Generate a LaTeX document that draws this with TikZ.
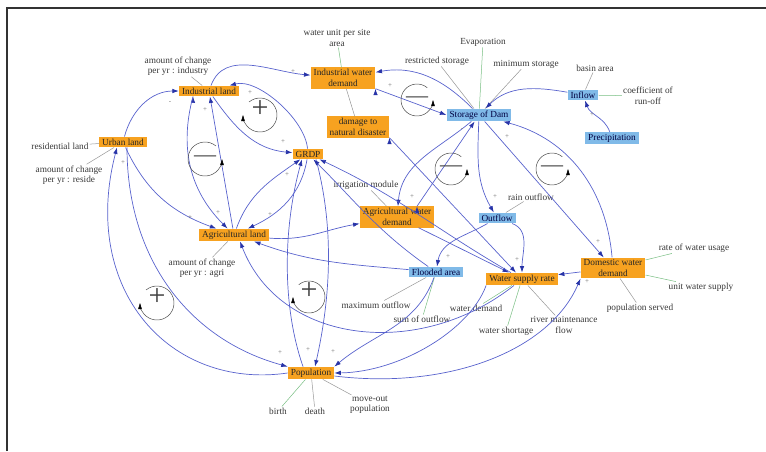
\documentclass[tikz,border=0pt]{standalone}
\usepackage{fontspec}
\setmainfont{Liberation Serif}
\usetikzlibrary{arrows.meta}
\definecolor{stockorange}{RGB}{247,162,32}
\definecolor{flowblue}{RGB}{128,186,232}
\definecolor{linkblue}{RGB}{88,98,205}
\definecolor{tipblue}{RGB}{40,52,168}
\definecolor{auxgray}{RGB}{150,150,150}
\definecolor{auxgrn}{RGB}{120,190,130}
\definecolor{labelgray}{RGB}{55,55,55}

\begin{document}
\begin{tikzpicture}
  [x=1pt,y=1pt,
   every node/.style={font=\fontsize{9.3}{10.5}\selectfont, align=center, inner sep=1.5pt},
   stock/.style={fill=stockorange, text=black!85, inner xsep=3pt, inner ysep=2pt},
   flowbox/.style={fill=flowblue, text=black!75!blue, inner xsep=3pt, inner ysep=2pt},
   aux/.style={text=labelgray, inner sep=1pt},
   sign/.style={font=\fontsize{7}{7}\selectfont, text=black!55, inner sep=0pt},
   link/.style={draw=linkblue, line width=0.7pt, -{Latex[length=6.5pt,width=4.5pt,color=tipblue]}},
   auxline/.style={draw=auxgray, line width=0.5pt},
   greenline/.style={draw=auxgrn, line width=0.5pt},
   loopc/.style={draw=black!70, line width=0.5pt, -{Triangle[length=6pt,width=3.5pt,color=black]}},
   loopsign/.style={text=black!75, inner sep=0pt, text height=0.5em, text depth=0pt},
   plus/.style={loopsign, font=\fontsize{30}{30}\selectfont},
   minus/.style={loopsign, font=\fontsize{22}{22}\selectfont}]

  \useasboundingbox (0,0) rectangle (766,-451);
  % frame
  \draw[black!80, line width=1.3pt] (7,-451) -- (7,-8) -- (766,-8);

  % stocks and flows
  \node[stock] (ind) at (209,-91) {Industrial land};
  \node[stock] (urb) at (123,-142) {Urban land};
  \node[stock] (iwd) at (343,-78) {Industrial water\\demand};
  \node[stock] (dmg) at (358,-127) {damage to\\natural disaster};
  \node[stock] (grdp) at (308,-154) {GRDP};
  \node[flowbox] (sto) at (479,-115) {Storage of Dam};
  \node[flowbox] (inf) at (583,-95) {Inflow};
  \node[flowbox] (pre) at (612,-138) {Precipitation};
  \node[flowbox] (outf) at (497,-218) {Outflow};
  \node[stock] (awd) at (397,-217) {Agricultural water\\demand};
  \node[stock] (agr) at (234,-235) {Agricultural land};
  \node[flowbox] (fld) at (436,-272) {Flooded area};
  \node[stock] (wsr) at (522,-279) {Water supply rate};
  \node[stock] (dwd) at (613,-268) {Domestic water\\demand};
  \node[stock] (pop) at (311,-373) {Population};

  % auxiliaries
  \node[aux] (resid) at (60,-146) {residential land};
  \node[aux] (chres) at (69,-175) {amount of change\\per yr : reside};
  \node[aux] (chind) at (178,-66) {amount of change\\per yr : industry};
  \node[aux] (wunit) at (337,-38) {water unit per site\\area};
  \node[aux] (restr) at (437,-61) {restricted storage};
  \node[aux] (evap) at (483,-42) {Evaporation};
  \node[aux] (minst) at (526,-64) {minimum storage};
  \node[aux] (basin) at (595,-68) {basin area};
  \node[aux] (coef) at (648,-96) {coefficient of\\run-off};
  \node[aux] (rainout) at (531,-197) {rain outflow};
  \node[aux] (irrig) at (366,-185) {irrigation module};
  \node[aux] (chagr) at (202,-268) {amount of change\\per yr : agri};
  \node[aux] (maxout) at (376,-305) {maximum outflow};
  \node[aux] (sumout) at (422,-319) {sum of outflow};
  \node[aux] (wdem) at (476,-308) {water demand};
  \node[aux] (wshort) at (506,-331) {water shortage};
  \node[aux] (river) at (564,-325) {river maintenance\\flow};
  \node[aux] (rate) at (694,-248) {rate of water usage};
  \node[aux] (unitws) at (701,-287) {unit water supply};
  \node[aux] (popserv) at (640,-308) {population served};
  \node[aux] (birth) at (278,-411) {birth};
  \node[aux] (death) at (315,-411) {death};
  \node[aux] (moveout) at (370,-405) {move-out\\population};

  % auxiliary lines
  \draw[auxline] (resid) -- (urb);
  \draw[auxline] (chres) -- (urb);
  \draw[auxline] (chind) -- (ind);
  \draw[greenline] (wunit) -- (iwd);
  \draw[auxline] (restr) -- (sto);
  \draw[greenline] (evap) -- (sto);
  \draw[auxline] (minst) -- (sto);
  \draw[auxline] (basin) -- (inf);
  \draw[greenline] (coef) -- (inf);
  \draw[auxline] (rainout) -- (outf);
  \draw[auxline] (irrig) -- (awd);
  \draw[auxline] (chagr) -- (agr);
  \draw[auxline] (maxout) -- (fld);
  \draw[greenline] (sumout) -- (fld);
  \draw[greenline] (wdem) -- (wsr);
  \draw[greenline] (wshort) -- (wsr);
  \draw[auxline] (river) -- (wsr);
  \draw[greenline] (rate) -- (dwd);
  \draw[greenline] (unitws) -- (dwd);
  \draw[auxline] (popserv) -- (dwd);
  \draw[greenline] (birth) -- (pop);
  \draw[auxline] (death) -- (pop);
  \draw[auxline] (moveout) -- (pop);
  \draw[auxline] (iwd) -- (dmg);

  % causal links
  \path[link] (urb) edge[out=75,in=180] (ind);
  \path[link] (ind) edge[out=70,in=175] (iwd);
  \path[link] (sto) edge[out=135,in=10] (iwd);
  \path[link] (iwd.south east) edge (sto.west);
  \path[link] (inf) edge[out=170,in=45] (sto);
  \path[link] (pre) edge[out=110,in=-70] (inf);
  \path[link] (sto) edge[out=-92,in=120] (outf);
  \path[link] (outf) edge[out=210,in=80] (fld);
  \path[link] (outf) edge[out=-20,in=90] (wsr);
  \path[link] (sto) edge (dwd);
  \path[link] (dwd) edge[out=95,in=-15] (sto);
  \path[link] (dwd) edge (wsr);
  \path[link] (sto) edge[out=-140,in=85] (awd);
  \path[link] ([xshift=20pt]awd.north) edge (sto);
  \path[link] (awd) edge (wsr);
  \path[link] (dmg.south east) edge (wsr);
  \path[link] (grdp) edge[out=95,in=15,looseness=0.75] (ind);
  \path[link] (ind) edge[out=-55,in=175] (grdp);
  \path[link] ([xshift=-16pt]ind.south) edge[out=-105,in=135] (agr);
  \path[link] (agr) edge (ind);
  \path[link] (agr) edge[out=70,in=215] (grdp);
  \path[link] (grdp) edge[out=-100,in=25] (agr);
  \path[link] (agr) edge[out=-5,in=190] (awd);
  \path[link] (urb) edge[out=-65,in=160] (agr);
  \draw[link] (pop.west) .. controls (170,-390) and (80,-290) .. ([xshift=-6pt]urb.south);
  \draw[link] ([xshift=4pt]urb.south) .. controls (127,-260) and (190,-340) .. (pop.north west);
  \draw[link] ([xshift=-8pt]pop.north) .. controls (280,-300) and (285,-220) .. ([xshift=-6pt]grdp.south);
  \draw[link] ([xshift=8pt]grdp.south) .. controls (335,-230) and (330,-300) .. ([xshift=4pt]pop.north);
  \path[link] (fld) edge[out=-110,in=40] (pop.north east);
  \draw[link] (wsr.south west) .. controls (470,-330) and (400,-372) .. (pop.east);
  \draw[link] ([yshift=-3pt]pop.east) .. controls (450,-390) and (550,-350) .. (dwd.south west);
  \path[link] (fld) edge[out=175,in=-20] ([xshift=20pt]agr.south);
  \draw[link] ([xshift=-8pt]wsr.south) .. controls (420,-360) and (280,-345) .. ([xshift=6pt]agr.south);
  \path[link] (fld) edge[out=145,in=-45] (grdp);
  \path[link] (wsr) edge[out=150,in=-25] (grdp);

  % link polarities
  \node[sign] (s1) at (170,-103) {-};
  \node[sign] (s2) at (293,-72) {+};
  \node[sign] (s3) at (390,-86) {+};
  \node[sign] (s4) at (592,-115) {+};
  \node[sign] (s5) at (495,-197) {+};
  \node[sign] (s6) at (448,-257) {+};
  \node[sign] (s7) at (517,-260) {+};
  \node[sign] (s8) at (598,-242) {+};
  \node[sign] (s9) at (507,-137) {+};
  \node[sign] (s10) at (587,-282) {+};
  \node[sign] (s11) at (462,-130) {-};
  \node[sign] (s12) at (412,-197) {+};
  \node[sign] (s13) at (250,-93) {+};
  \node[sign] (s14) at (283,-142) {+};
  \node[sign] (s15) at (218,-213) {+};
  \node[sign] (s16) at (205,-110) {+};
  \node[sign] (s17) at (287,-175) {+};
  \node[sign] (s18) at (270,-215) {+};
  \node[sign] (s19) at (190,-218) {+};
  \node[sign] (s20) at (280,-353) {+};
  \node[sign] (s21) at (308,-350) {+};
  \node[sign] (s22) at (333,-352) {+};
  \node[sign] (s23) at (123,-163) {+};

  % loop markers
  \coordinate (L1) at (260,-115);
  \coordinate (L2) at (205,-159);
  \coordinate (L3) at (417,-100);
  \coordinate (L4) at (451,-169);
  \coordinate (L5) at (552,-169);
  \coordinate (L6) at (157,-303);
  \coordinate (L7) at (309,-297);
  \draw[loopc] ([shift={(130:17)}]L1) arc[start angle=130,end angle=-180,radius=17];
  \draw[loopc] ([shift={(50:17)}]L2) arc[start angle=50,end angle=360,radius=17];
  \draw[loopc] ([shift={(50:16)}]L3) arc[start angle=50,end angle=360,radius=16];
  \draw[loopc] ([shift={(50:16)}]L4) arc[start angle=50,end angle=360,radius=16];
  \draw[loopc] ([shift={(50:16)}]L5) arc[start angle=50,end angle=360,radius=16];
  \draw[loopc] ([shift={(130:17)}]L6) arc[start angle=130,end angle=-180,radius=17];
  \draw[loopc] ([shift={(130:16)}]L7) arc[start angle=130,end angle=-180,radius=16];
  \node[plus] (L1s) at (L1) {+};
  \node[minus] (L2s) at (L2) {—};
  \node[minus] (L3s) at (L3) {—};
  \node[minus] (L4s) at (L4) {—};
  \node[minus] (L5s) at (L5) {—};
  \node[plus] (L6s) at (L6) {+};
  \node[plus] (L7s) at (L7) {+};
\end{tikzpicture}
\end{document}
